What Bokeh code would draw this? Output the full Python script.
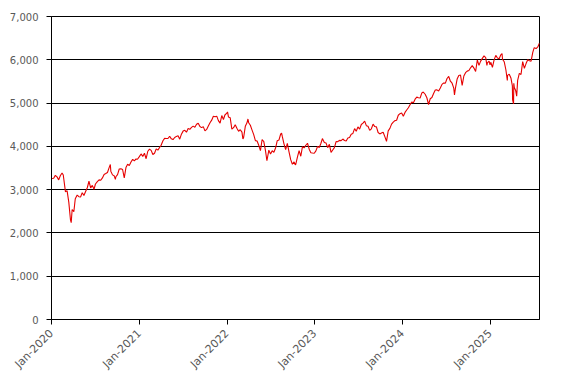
import math
import pandas as pd
from bokeh.plotting import figure
from bokeh.models import ColumnDataSource, FixedTicker, DatetimeTickFormatter, NumeralTickFormatter, Range1d
from bokeh.embed import file_html
from bokeh.resources import INLINE

dates_2020 = ["2020-01-02","2020-01-10","2020-01-17","2020-01-24","2020-01-31","2020-02-07","2020-02-14","2020-02-19","2020-02-28",
              "2020-03-06","2020-03-13","2020-03-20","2020-03-23","2020-03-27","2020-04-03","2020-04-09","2020-04-17","2020-04-24",
              "2020-05-01","2020-05-08","2020-05-15","2020-05-22","2020-05-29","2020-06-05","2020-06-12","2020-06-19","2020-06-26",
              "2020-07-02","2020-07-10","2020-07-17","2020-07-24","2020-07-31","2020-08-07","2020-08-14","2020-08-21","2020-08-28",
              "2020-09-02","2020-09-04","2020-09-11","2020-09-18","2020-09-23","2020-09-25","2020-10-02","2020-10-09","2020-10-16",
              "2020-10-23","2020-10-30","2020-11-06","2020-11-13","2020-11-20","2020-11-27","2020-12-04","2020-12-11","2020-12-18",
              "2020-12-24","2020-12-31"]
vals_2020 = [3258,3265,3330,3295,3226,3328,3386,3338,2954,2972,2711,2305,2237,2541,2489,2790,2875,2837,2831,2930,2864,2955,3044,
             3194,3041,3098,3009,3130,3185,3225,3216,3271,3351,3373,3397,3508,3580,3427,3341,3319,3237,3298,3348,3477,3484,3465,
             3270,3510,3585,3558,3638,3699,3663,3709,3703,3756]

dates_2021 = ["2021-01-08","2021-01-15","2021-01-22","2021-01-29","2021-02-05","2021-02-12","2021-02-19","2021-02-26","2021-03-05",
              "2021-03-12","2021-03-19","2021-03-26","2021-04-01","2021-04-09","2021-04-16","2021-04-23","2021-04-30","2021-05-07",
              "2021-05-14","2021-05-21","2021-05-28","2021-06-04","2021-06-11","2021-06-18","2021-06-25","2021-07-02","2021-07-09",
              "2021-07-16","2021-07-23","2021-07-30","2021-08-06","2021-08-13","2021-08-20","2021-08-27","2021-09-03","2021-09-10",
              "2021-09-17","2021-09-24","2021-10-01","2021-10-08","2021-10-15","2021-10-22","2021-10-29","2021-11-05","2021-11-12",
              "2021-11-19","2021-11-26","2021-12-03","2021-12-10","2021-12-17","2021-12-23","2021-12-31"]
vals_2021 = [3825,3768,3841,3714,3887,3934,3907,3811,3842,3943,3913,3975,4020,4129,4185,4180,4181,4233,4174,4156,4204,4230,4247,
             4166,4281,4352,4370,4327,4412,4395,4437,4468,4442,4509,4535,4459,4433,4455,4357,4391,4471,4545,4605,4697,4683,4698,
             4595,4538,4712,4620,4725,4766]

dates_2022 = ["2022-01-03","2022-01-07","2022-01-14","2022-01-21","2022-01-28","2022-02-04","2022-02-11","2022-02-18","2022-02-25",
              "2022-03-04","2022-03-08","2022-03-11","2022-03-18","2022-03-25","2022-03-29","2022-04-01","2022-04-08","2022-04-14",
              "2022-04-22","2022-04-29","2022-05-06","2022-05-13","2022-05-20","2022-05-27","2022-06-03","2022-06-10","2022-06-16",
              "2022-06-24","2022-07-01","2022-07-08","2022-07-15","2022-07-22","2022-07-29","2022-08-05","2022-08-12","2022-08-16",
              "2022-08-19","2022-08-26","2022-09-02","2022-09-09","2022-09-16","2022-09-23","2022-09-30","2022-10-07","2022-10-12",
              "2022-10-14","2022-10-21","2022-10-28","2022-11-04","2022-11-11","2022-11-18","2022-11-25","2022-12-02","2022-12-09",
              "2022-12-16","2022-12-23","2022-12-30"]
vals_2022 = [4796,4677,4663,4398,4432,4501,4419,4349,4385,4329,4170,4204,4463,4543,4632,4546,4488,4393,4272,4132,4123,4024,3901,
             4158,4109,3901,3667,3912,3825,3899,3863,3962,4130,4145,4280,4305,4228,4058,3924,4067,3873,3693,3586,3640,3577,3583,
             3752,3901,3771,3993,3965,4026,4072,3934,3852,3845,3840]

dates_2023 = ["2023-01-06","2023-01-13","2023-01-20","2023-01-27","2023-02-02","2023-02-10","2023-02-17","2023-02-24","2023-03-03",
              "2023-03-10","2023-03-17","2023-03-24","2023-03-31","2023-04-06","2023-04-14","2023-04-21","2023-04-28","2023-05-05",
              "2023-05-12","2023-05-19","2023-05-26","2023-06-02","2023-06-09","2023-06-16","2023-06-23","2023-06-30","2023-07-07",
              "2023-07-14","2023-07-21","2023-07-28","2023-08-04","2023-08-11","2023-08-18","2023-08-25","2023-09-01","2023-09-08",
              "2023-09-15","2023-09-22","2023-09-29","2023-10-06","2023-10-13","2023-10-20","2023-10-27","2023-11-03","2023-11-10",
              "2023-11-17","2023-11-24","2023-12-01","2023-12-08","2023-12-15","2023-12-22","2023-12-29"]
vals_2023 = [3895,3999,3973,4071,4180,4090,4079,3970,4046,3862,3917,3971,4109,4105,4138,4133,4169,4136,4124,4192,4205,4282,4299,
             4410,4348,4450,4399,4505,4536,4582,4478,4464,4370,4406,4515,4457,4450,4320,4288,4308,4327,4224,4117,4358,4415,4514,
             4559,4595,4604,4719,4755,4770]

dates_2024 = ["2024-01-05","2024-01-12","2024-01-19","2024-01-26","2024-02-02","2024-02-09","2024-02-16","2024-02-23","2024-03-01",
              "2024-03-08","2024-03-15","2024-03-22","2024-03-28","2024-04-05","2024-04-12","2024-04-19","2024-04-26","2024-05-03",
              "2024-05-10","2024-05-17","2024-05-24","2024-05-31","2024-06-07","2024-06-14","2024-06-21","2024-06-28","2024-07-05",
              "2024-07-12","2024-07-19","2024-07-26","2024-08-02","2024-08-05","2024-08-09","2024-08-16","2024-08-23","2024-08-30",
              "2024-09-06","2024-09-13","2024-09-20","2024-09-27","2024-10-04","2024-10-11","2024-10-18","2024-10-25","2024-11-01",
              "2024-11-08","2024-11-15","2024-11-22","2024-11-29","2024-12-06","2024-12-13","2024-12-18","2024-12-20","2024-12-27",
              "2024-12-31"]
vals_2024 = [4697,4784,4840,4891,4959,5027,5006,5089,5137,5124,5117,5234,5254,5204,5123,4967,5100,5128,5223,5303,5305,5278,5347,
             5432,5465,5460,5567,5615,5505,5459,5346,5186,5344,5554,5635,5648,5408,5626,5703,5738,5751,5815,5864,5808,5729,5995,
             5870,5969,6032,6090,6051,5872,5930,5970,5882]

dates_2025 = ["2025-01-03","2025-01-10","2025-01-17","2025-01-24","2025-01-31","2025-02-07","2025-02-14","2025-02-19","2025-02-21",
              "2025-02-28","2025-03-07","2025-03-13","2025-03-14","2025-03-21","2025-03-28","2025-04-03","2025-04-04","2025-04-08",
              "2025-04-09","2025-04-11","2025-04-17","2025-04-21","2025-04-25","2025-05-02","2025-05-09","2025-05-16","2025-05-23",
              "2025-05-30","2025-06-06","2025-06-13","2025-06-20","2025-06-27","2025-07-03","2025-07-11","2025-07-18","2025-07-25"]
vals_2025 = [5942,5827,5997,6101,6041,6026,6115,6144,6013,5955,5770,5522,5639,5668,5581,5397,5074,4983,5457,5363,5283,5158,5525,
             5687,5660,5958,5803,5912,6000,5977,5968,6173,6279,6260,6297,6389]

tick_years = [2020, 2021, 2022, 2023, 2024, 2025]
y_ticks = [0, 1000, 2000, 3000, 4000, 5000, 6000, 7000]

dates = pd.to_datetime(dates_2020 + dates_2021 + dates_2022 + dates_2023 + dates_2024 + dates_2025)
vals = vals_2020 + vals_2021 + vals_2022 + vals_2023 + vals_2024 + vals_2025
src = ColumnDataSource(dict(x=dates, y=vals))

def ms(d):
    return pd.Timestamp(d).value / 1e6

p = figure(width=559, height=383, x_axis_type="datetime", output_backend="svg", toolbar_location=None,
           x_range=Range1d(ms("2020-01-01"), ms(dates[-1])), y_range=Range1d(0, 7000),
           min_border_left=51, min_border_right=20, min_border_top=16, min_border_bottom=64)
p.line("x", "y", source=src, line_color="#E60000", line_width=1.1)

p.outline_line_color = "black"
p.outline_line_width = 1
p.xgrid.visible = False
p.ygrid.grid_line_color = "black"
p.ygrid.grid_line_width = 1

p.xaxis.ticker = FixedTicker(ticks=[ms(f"{y}-01-01") for y in tick_years])
p.xaxis.formatter = DatetimeTickFormatter(years="%b-%Y", months="%b-%Y", days="%b-%Y", hours="%b-%Y")
p.xaxis.major_label_orientation = math.pi / 4
p.xaxis.minor_tick_line_color = None
p.yaxis.ticker = FixedTicker(ticks=y_ticks)
p.yaxis.formatter = NumeralTickFormatter(format="0,0")
p.yaxis.minor_tick_line_color = None

for ax in (p.xaxis, p.yaxis):
    ax.axis_line_color = "black"
    ax.axis_line_width = 1
    ax.major_tick_line_color = "black"
    ax.major_tick_out = 5
    ax.major_tick_in = 0
    ax.major_label_text_font = "DejaVu Sans"
    ax.major_label_text_color = "#595959"

p.yaxis.major_label_text_font_size = "10px"
p.yaxis.major_label_standoff = 8
p.xaxis.major_label_text_font_size = "11px"
p.xaxis.major_label_standoff = 7

open("out.html", "w").write(file_html(p, INLINE))
